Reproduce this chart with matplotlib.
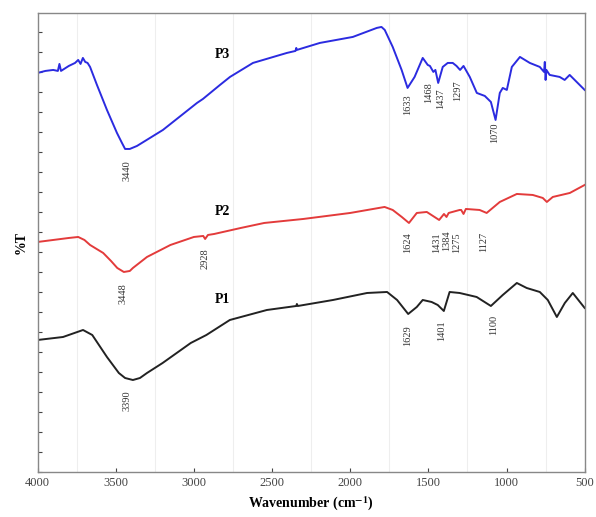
import matplotlib.pyplot as plt

# FTIR spectra (arbitrary %T offset units)
wn_p3 = [4000, 3950, 3900, 3870, 3860, 3850, 3800, 3760, 3740, 3725, 3710, 3695,
         3680, 3664, 3620, 3556, 3492, 3460, 3440, 3410, 3364, 3198, 2980, 2942,
         2833, 2769, 2622, 2405, 2350, 2345, 2341, 2194, 1983, 1830, 1800, 1779,
         1728, 1671, 1633, 1588, 1536, 1504, 1490, 1468, 1455, 1437, 1408, 1376,
         1344, 1320, 1297, 1275, 1235, 1190, 1139, 1100, 1070, 1043, 1024, 998,
         966, 914, 851, 787, 760, 755, 750, 745, 724, 660, 628, 596, 500]
t_p3 = [399, 401, 402, 401, 408, 401, 406, 409, 412, 408, 414, 410,
        409, 405, 387, 362, 339, 329, 323, 323, 326, 342, 369, 373,
        387, 395, 409, 419, 421, 424, 422, 429, 435, 444, 445, 442,
        425, 402, 384, 395, 414, 407, 406, 400, 402, 389, 405, 409,
        409, 406, 402, 406, 395, 379, 376, 370, 352, 379, 384, 382,
        405, 415, 409, 405, 400, 410, 392, 402, 397, 395, 392, 397, 382]

wn_p2 = [4000, 3900, 3800, 3740, 3700, 3664, 3580, 3530, 3490, 3448, 3410, 3390,
         3300, 3150, 3000, 2940, 2928, 2910, 2870, 2700, 2550, 2300, 2000, 1780,
         1728, 1670, 1624, 1574, 1510, 1431, 1400, 1384, 1370, 1300, 1290, 1275,
         1260, 1172, 1127, 1043, 934, 832, 768, 742, 704, 595, 500]
t_p2 = [230, 232, 234, 235, 232, 227, 219, 211, 204, 200, 201, 204,
        215, 227, 235, 236, 233, 237, 238, 244, 249, 253, 259, 265,
        262, 255, 249, 259, 260, 252, 258, 255, 259, 262, 262, 258,
        263, 262, 259, 270, 278, 277, 274, 270, 275, 279, 287]

wn_p1 = [4000, 3837, 3709, 3650, 3556, 3480, 3440, 3390, 3345, 3300, 3200, 3020,
         2920, 2770, 2533, 2345, 2341, 2335, 2110, 1892, 1764, 1700, 1629, 1574,
         1536, 1479, 1440, 1401, 1364, 1300, 1191, 1100, 1024, 934, 871, 787,
         736, 678, 627, 576, 500]
t_p1 = [132, 135, 142, 137, 115, 99, 94, 92, 94, 99, 109, 129,
        137, 152, 162, 166, 168, 166, 172, 179, 180, 172, 158, 165,
        172, 170, 167, 161, 180, 179, 175, 166, 177, 189, 184, 180,
        172, 155, 169, 179, 164]

# peak annotations: (text, wavenumber, top of text)
peaks_p3 = [("3440", 3425, 312), ("1633", 1632, 378), ("1468", 1495, 390),
            ("1437", 1420, 384), ("1297", 1312, 392), ("1070", 1075, 349)]
peaks_p2 = [("3448", 3453, 189), ("2928", 2929, 224), ("1624", 1632, 240),
            ("1431", 1446, 240), ("1384", 1383, 242), ("1275", 1318, 240),
            ("1127", 1146, 240)]
peaks_p1 = [("3390", 3425, 82), ("1629", 1632, 147), ("1401", 1414, 152),
            ("1100", 1082, 157)]

plt.rcParams['font.family'] = ['Liberation Serif', 'DejaVu Serif']
plt.rcParams['mathtext.fontset'] = 'stix'

fig = plt.figure(figsize=(5.96, 5.17), dpi=100)
ax = fig.add_axes([0.063, 0.087, 0.918, 0.888])

ax.plot(wn_p3, t_p3, color="#2b2be0", linewidth=1.4)
ax.plot(wn_p2, t_p2, color="#e33b3b", linewidth=1.4)
ax.plot(wn_p1, t_p1, color="#222222", linewidth=1.4)

for peaks in (peaks_p3, peaks_p2, peaks_p1):
    for txt, x, y in peaks:
        ax.text(x, y, txt, rotation=90, ha="center", va="top", fontsize=7.5,
                color="#333333")

ax.text(2815, 417, "P3", fontsize=10, fontweight="bold", ha="center", va="center")
ax.text(2815, 260, "P2", fontsize=10, fontweight="bold", ha="center", va="center")
ax.text(2815, 172, "P1", fontsize=10, fontweight="bold", ha="center", va="center")

ax.set_xlim(4000, 500)
ax.set_ylim(0, 459)
ax.set_xticks(range(4000, 499, -500))
ax.set_xticks(range(3750, 600, -500), minor=True)
ax.set_yticks(range(0, 460, 20))
ax.set_yticklabels([])
ax.tick_params(axis="both", direction="in", length=3, labelsize=9, colors="#444444")
ax.tick_params(axis="x", which="minor", length=0)
ax.grid(True, axis="x", which="minor", color="#eeeeee", linewidth=0.8)
for s in ax.spines.values():
    s.set_color("#888888")
    s.set_linewidth(1.0)

ax.set_xlabel("Wavenumber (cm$^{\\mathbf{-1}}$)", fontsize=10, fontweight="bold")
ax.set_ylabel("%T", fontsize=10, fontweight="bold")

fig.savefig("out.png", dpi=100)
